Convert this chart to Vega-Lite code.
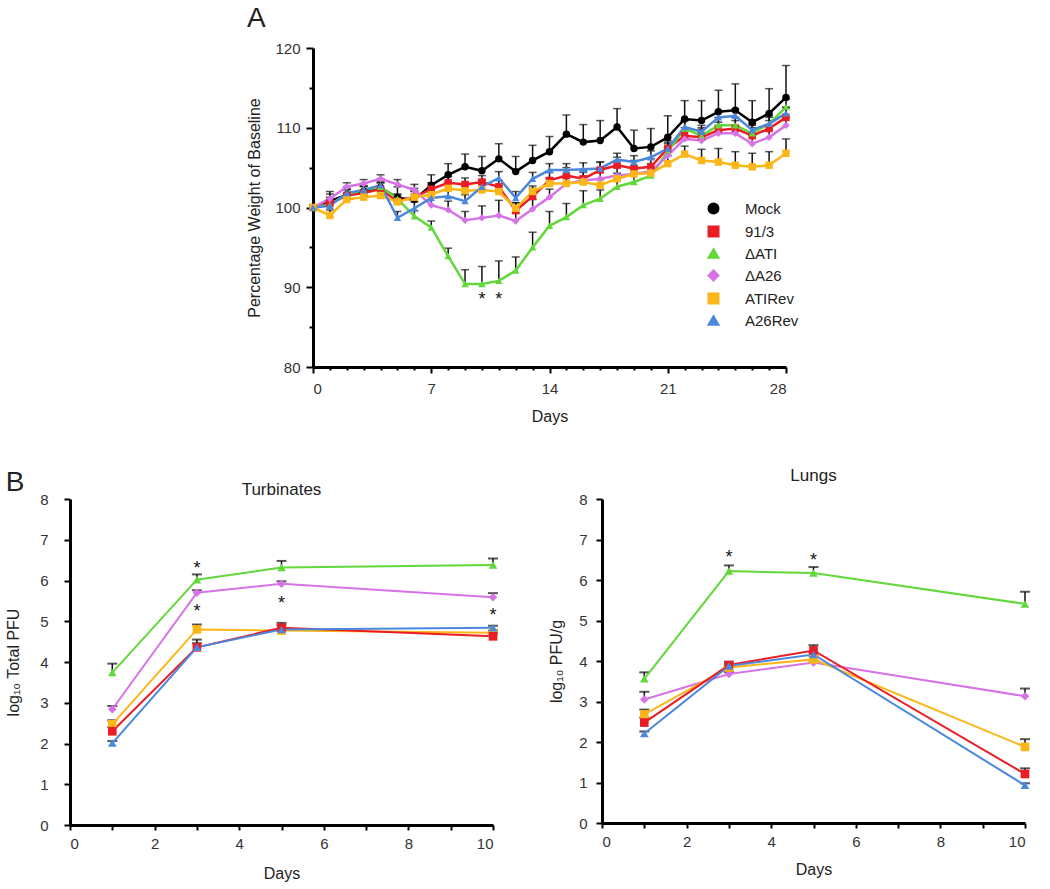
{
  "$schema": "https://vega.github.io/schema/vega-lite/v6.json",
  "padding": {"left": 5, "top": 5, "right": 5, "bottom": 5},
  "config": {
    "font": "Liberation Sans",
    "view": {"stroke": null},
    "axis": {"domainColor": "#000", "domainWidth": 3, "tickColor": "#000", "tickWidth": 2, "labelFont": "Liberation Sans", "labelFontSize": 15, "labelColor": "#333", "titleFont": "Liberation Sans", "titleFontSize": 16, "titleFontWeight": "normal", "titleColor": "#222", "grid": false},
    "title": {"fontWeight": "normal", "color": "#222", "font": "Liberation Sans"}
  },
  "datasets": {
    "weight": [
      {"d":0,"g":"Mock","v":100},{"d":1,"g":"Mock","v":100.8,"hi":102.0},{"d":2,"g":"Mock","v":101.6,"hi":102.3},{"d":3,"g":"Mock","v":102.0,"hi":102.7},{"d":4,"g":"Mock","v":102.5,"hi":103.3},{"d":5,"g":"Mock","v":101.2,"hi":102.6},{"d":6,"g":"Mock","v":101.0,"hi":102.4},{"d":7,"g":"Mock","v":102.8,"hi":104.1},{"d":8,"g":"Mock","v":104.1,"hi":105.5},{"d":9,"g":"Mock","v":105.1,"hi":106.7},{"d":10,"g":"Mock","v":104.6,"hi":106.4},{"d":11,"g":"Mock","v":106.1,"hi":108.0},{"d":12,"g":"Mock","v":104.5,"hi":106.4},{"d":13,"g":"Mock","v":105.9,"hi":107.8},{"d":14,"g":"Mock","v":107.0,"hi":108.9},{"d":15,"g":"Mock","v":109.2,"hi":111.6},{"d":16,"g":"Mock","v":108.2,"hi":110.4},{"d":17,"g":"Mock","v":108.4,"hi":110.9},{"d":18,"g":"Mock","v":110.1,"hi":112.4},{"d":19,"g":"Mock","v":107.4,"hi":109.7},{"d":20,"g":"Mock","v":107.6,"hi":109.9},{"d":21,"g":"Mock","v":108.8,"hi":111.5},{"d":22,"g":"Mock","v":111.1,"hi":113.4},{"d":23,"g":"Mock","v":110.9,"hi":113.4},{"d":24,"g":"Mock","v":112.0,"hi":114.7},{"d":25,"g":"Mock","v":112.2,"hi":115.5},{"d":26,"g":"Mock","v":110.7,"hi":113.4},{"d":27,"g":"Mock","v":111.8,"hi":114.9},{"d":28,"g":"Mock","v":113.8,"hi":117.8},
      {"d":0,"g":"91/3","v":100},{"d":1,"g":"91/3","v":100.5,"hi":101.3},{"d":2,"g":"91/3","v":101.5,"hi":102.3},{"d":3,"g":"91/3","v":101.8,"hi":102.6},{"d":4,"g":"91/3","v":102.3,"hi":103.1},{"d":5,"g":"91/3","v":100.8,"hi":101.6},{"d":6,"g":"91/3","v":101.3,"hi":102.1},{"d":7,"g":"91/3","v":102.3,"hi":103.1},{"d":8,"g":"91/3","v":103.1,"hi":103.9},{"d":9,"g":"91/3","v":102.9,"hi":103.7},{"d":10,"g":"91/3","v":103.2,"hi":104.0},{"d":11,"g":"91/3","v":102.6,"hi":103.4},{"d":12,"g":"91/3","v":99.6,"hi":100.6},{"d":13,"g":"91/3","v":101.4,"hi":102.4},{"d":14,"g":"91/3","v":103.4,"hi":104.4},{"d":15,"g":"91/3","v":104.0,"hi":105.0},{"d":16,"g":"91/3","v":103.6,"hi":104.6},{"d":17,"g":"91/3","v":104.7,"hi":105.7},{"d":18,"g":"91/3","v":105.3,"hi":106.3},{"d":19,"g":"91/3","v":104.9,"hi":105.9},{"d":20,"g":"91/3","v":105.1,"hi":106.1},{"d":21,"g":"91/3","v":107.4,"hi":108.4},{"d":22,"g":"91/3","v":109.0,"hi":110.0},{"d":23,"g":"91/3","v":108.8,"hi":109.8},{"d":24,"g":"91/3","v":109.7,"hi":110.7},{"d":25,"g":"91/3","v":109.9,"hi":110.9},{"d":26,"g":"91/3","v":109.0,"hi":110.0},{"d":27,"g":"91/3","v":109.9,"hi":110.9},{"d":28,"g":"91/3","v":111.3,"hi":112.5},
      {"d":0,"g":"ΔATI","v":100},{"d":1,"g":"ΔATI","v":100.3,"hi":100.8},{"d":2,"g":"ΔATI","v":101.7,"hi":102.2},{"d":3,"g":"ΔATI","v":102.2,"hi":102.7},{"d":4,"g":"ΔATI","v":102.6,"hi":103.1},{"d":5,"g":"ΔATI","v":101.1,"hi":101.7},{"d":6,"g":"ΔATI","v":98.9,"hi":99.6},{"d":7,"g":"ΔATI","v":97.5,"hi":98.3},{"d":8,"g":"ΔATI","v":93.9,"hi":94.9},{"d":9,"g":"ΔATI","v":90.4,"hi":92.2},{"d":10,"g":"ΔATI","v":90.4,"hi":92.6},{"d":11,"g":"ΔATI","v":90.8,"hi":93.3},{"d":12,"g":"ΔATI","v":92.1,"hi":93.8},{"d":13,"g":"ΔATI","v":95.0,"hi":96.9},{"d":14,"g":"ΔATI","v":97.7,"hi":99.5},{"d":15,"g":"ΔATI","v":98.8,"hi":100.5},{"d":16,"g":"ΔATI","v":100.3,"hi":102.1},{"d":17,"g":"ΔATI","v":101.1,"hi":102.2},{"d":18,"g":"ΔATI","v":102.6,"hi":103.6},{"d":19,"g":"ΔATI","v":103.2,"hi":104.2},{"d":20,"g":"ΔATI","v":104.0,"hi":105.0},{"d":21,"g":"ΔATI","v":107.0,"hi":108.0},{"d":22,"g":"ΔATI","v":109.9,"hi":110.9},{"d":23,"g":"ΔATI","v":109.0,"hi":110.0},{"d":24,"g":"ΔATI","v":110.3,"hi":111.3},{"d":25,"g":"ΔATI","v":110.3,"hi":111.3},{"d":26,"g":"ΔATI","v":109.3,"hi":110.3},{"d":27,"g":"ΔATI","v":110.5,"hi":111.5},{"d":28,"g":"ΔATI","v":112.6,"hi":113.6},
      {"d":0,"g":"ΔA26","v":100},{"d":1,"g":"ΔA26","v":101.1,"hi":101.7},{"d":2,"g":"ΔA26","v":102.6,"hi":103.1},{"d":3,"g":"ΔA26","v":103.0,"hi":103.5},{"d":4,"g":"ΔA26","v":103.6,"hi":104.1},{"d":5,"g":"ΔA26","v":102.9,"hi":103.5},{"d":6,"g":"ΔA26","v":102.2,"hi":102.9},{"d":7,"g":"ΔA26","v":100.3,"hi":101.3},{"d":8,"g":"ΔA26","v":99.7,"hi":100.8},{"d":9,"g":"ΔA26","v":98.4,"hi":99.5},{"d":10,"g":"ΔA26","v":98.7,"hi":100.2},{"d":11,"g":"ΔA26","v":99.0,"hi":100.9},{"d":12,"g":"ΔA26","v":98.3,"hi":99.3},{"d":13,"g":"ΔA26","v":99.8,"hi":101.0},{"d":14,"g":"ΔA26","v":101.3,"hi":102.3},{"d":15,"g":"ΔA26","v":103.0,"hi":104.0},{"d":16,"g":"ΔA26","v":103.4,"hi":104.4},{"d":17,"g":"ΔA26","v":103.6,"hi":104.6},{"d":18,"g":"ΔA26","v":104.0,"hi":105.0},{"d":19,"g":"ΔA26","v":104.2,"hi":105.2},{"d":20,"g":"ΔA26","v":104.5,"hi":105.5},{"d":21,"g":"ΔA26","v":106.5,"hi":107.5},{"d":22,"g":"ΔA26","v":108.6,"hi":109.6},{"d":23,"g":"ΔA26","v":108.4,"hi":109.4},{"d":24,"g":"ΔA26","v":109.3,"hi":110.3},{"d":25,"g":"ΔA26","v":109.3,"hi":110.3},{"d":26,"g":"ΔA26","v":108.0,"hi":109.0},{"d":27,"g":"ΔA26","v":108.8,"hi":109.8},{"d":28,"g":"ΔA26","v":110.3,"hi":111.3},
      {"d":0,"g":"ATIRev","v":100},{"d":1,"g":"ATIRev","v":99.0,"hi":99.7},{"d":2,"g":"ATIRev","v":101.0,"hi":101.7},{"d":3,"g":"ATIRev","v":101.3,"hi":102.0},{"d":4,"g":"ATIRev","v":101.5,"hi":102.2},{"d":5,"g":"ATIRev","v":100.7,"hi":101.4},{"d":6,"g":"ATIRev","v":101.3,"hi":102.0},{"d":7,"g":"ATIRev","v":101.6,"hi":102.3},{"d":8,"g":"ATIRev","v":102.4,"hi":103.1},{"d":9,"g":"ATIRev","v":102.1,"hi":102.8},{"d":10,"g":"ATIRev","v":102.2,"hi":102.9},{"d":11,"g":"ATIRev","v":102.0,"hi":102.7},{"d":12,"g":"ATIRev","v":99.9,"hi":100.6},{"d":13,"g":"ATIRev","v":102.0,"hi":102.7},{"d":14,"g":"ATIRev","v":103.0,"hi":103.7},{"d":15,"g":"ATIRev","v":103.0,"hi":103.7},{"d":16,"g":"ATIRev","v":103.2,"hi":103.9},{"d":17,"g":"ATIRev","v":102.8,"hi":103.5},{"d":18,"g":"ATIRev","v":103.6,"hi":104.3},{"d":19,"g":"ATIRev","v":104.2,"hi":104.9},{"d":20,"g":"ATIRev","v":104.3,"hi":105.0},{"d":21,"g":"ATIRev","v":105.5,"hi":106.5},{"d":22,"g":"ATIRev","v":106.7,"hi":107.7},{"d":23,"g":"ATIRev","v":105.9,"hi":107.3},{"d":24,"g":"ATIRev","v":105.7,"hi":107.4},{"d":25,"g":"ATIRev","v":105.3,"hi":107.0},{"d":26,"g":"ATIRev","v":105.1,"hi":106.8},{"d":27,"g":"ATIRev","v":105.3,"hi":107.0},{"d":28,"g":"ATIRev","v":106.8,"hi":108.6},
      {"d":0,"g":"A26Rev","v":100},{"d":1,"g":"A26Rev","v":100.2,"hi":101.0},{"d":2,"g":"A26Rev","v":101.8,"hi":102.6},{"d":3,"g":"A26Rev","v":102.2,"hi":103.0},{"d":4,"g":"A26Rev","v":102.8,"hi":103.6},{"d":5,"g":"A26Rev","v":98.7,"hi":99.5},{"d":6,"g":"A26Rev","v":99.9,"hi":100.7},{"d":7,"g":"A26Rev","v":101.2,"hi":102.0},{"d":8,"g":"A26Rev","v":101.4,"hi":102.2},{"d":9,"g":"A26Rev","v":100.8,"hi":101.6},{"d":10,"g":"A26Rev","v":102.6,"hi":103.4},{"d":11,"g":"A26Rev","v":103.7,"hi":104.5},{"d":12,"g":"A26Rev","v":101.2,"hi":102.0},{"d":13,"g":"A26Rev","v":103.6,"hi":104.4},{"d":14,"g":"A26Rev","v":104.7,"hi":105.5},{"d":15,"g":"A26Rev","v":104.7,"hi":105.5},{"d":16,"g":"A26Rev","v":104.8,"hi":105.6},{"d":17,"g":"A26Rev","v":104.9,"hi":105.7},{"d":18,"g":"A26Rev","v":106.0,"hi":106.8},{"d":19,"g":"A26Rev","v":105.7,"hi":106.5},{"d":20,"g":"A26Rev","v":106.3,"hi":107.1},{"d":21,"g":"A26Rev","v":107.4,"hi":108.2},{"d":22,"g":"A26Rev","v":110.1,"hi":110.9},{"d":23,"g":"A26Rev","v":109.5,"hi":110.3},{"d":24,"g":"A26Rev","v":111.3,"hi":112.1},{"d":25,"g":"A26Rev","v":111.5,"hi":112.3},{"d":26,"g":"A26Rev","v":109.7,"hi":110.5},{"d":27,"g":"A26Rev","v":110.5,"hi":111.3},{"d":28,"g":"A26Rev","v":111.8,"hi":112.6}
    ],
    "starsA": [{"d":10,"y":89.0},{"d":11,"y":89.0}],
    "turb": [
      {"d":1,"g":"ΔATI","v":3.74,"hi":3.96},{"d":3,"g":"ΔATI","v":6.02,"hi":6.15},{"d":5,"g":"ΔATI","v":6.32,"hi":6.48},{"d":10,"g":"ΔATI","v":6.38,"hi":6.54},
      {"d":1,"g":"ΔA26","v":2.84,"hi":2.92},{"d":3,"g":"ΔA26","v":5.70,"hi":5.76},{"d":5,"g":"ΔA26","v":5.92,"hi":5.98},{"d":10,"g":"ΔA26","v":5.59,"hi":5.69},
      {"d":1,"g":"ATIRev","v":2.47,"hi":2.57},{"d":3,"g":"ATIRev","v":4.80,"hi":4.92},{"d":5,"g":"ATIRev","v":4.77,"hi":4.82},{"d":10,"g":"ATIRev","v":4.72,"hi":4.77},
      {"d":1,"g":"91/3","v":2.30,"hi":2.40},{"d":3,"g":"91/3","v":4.36,"hi":4.55},{"d":5,"g":"91/3","v":4.84,"hi":4.96},{"d":10,"g":"91/3","v":4.63,"hi":4.71},
      {"d":1,"g":"A26Rev","v":2.01,"hi":2.06},{"d":3,"g":"A26Rev","v":4.36,"hi":4.46},{"d":5,"g":"A26Rev","v":4.80,"hi":4.90},{"d":10,"g":"A26Rev","v":4.84,"hi":4.89}
    ],
    "starsT": [{"d":3,"y":6.40},{"d":3,"y":5.36},{"d":5,"y":5.55},{"d":10,"y":5.26}],
    "lungs": [
      {"d":1,"g":"ΔATI","v":3.56,"hi":3.72},{"d":3,"g":"ΔATI","v":6.22,"hi":6.36},{"d":5,"g":"ΔATI","v":6.17,"hi":6.32},{"d":10,"g":"ΔATI","v":5.41,"hi":5.71},
      {"d":1,"g":"ΔA26","v":3.05,"hi":3.24},{"d":3,"g":"ΔA26","v":3.68,"hi":3.73},{"d":5,"g":"ΔA26","v":3.96,"hi":4.01},{"d":10,"g":"ΔA26","v":3.13,"hi":3.32},
      {"d":1,"g":"ATIRev","v":2.68,"hi":2.80},{"d":3,"g":"ATIRev","v":3.84,"hi":3.89},{"d":5,"g":"ATIRev","v":4.04,"hi":4.12},{"d":10,"g":"ATIRev","v":1.88,"hi":2.07},
      {"d":1,"g":"91/3","v":2.48,"hi":2.60},{"d":3,"g":"91/3","v":3.90,"hi":3.98},{"d":5,"g":"91/3","v":4.26,"hi":4.39},{"d":10,"g":"91/3","v":1.21,"hi":1.35},
      {"d":1,"g":"A26Rev","v":2.21,"hi":2.26},{"d":3,"g":"A26Rev","v":3.88,"hi":3.93},{"d":5,"g":"A26Rev","v":4.16,"hi":4.21},{"d":10,"g":"A26Rev","v":0.93,"hi":0.98}
    ],
    "starsL": [{"d":3,"y":6.67},{"d":5,"y":6.60}]
  },
  "spacing": 43,
  "vconcat": [
    {
      "spacing": 0,
      "hconcat": [
        {"width": 176, "height": 10, "data": {"values": [{}]}, "mark": {"type": "point", "opacity": 0}},
        {
          "width": 473, "height": 319,
          "title": {"text": "A", "anchor": "start", "frame": "bounds", "fontSize": 28, "offset": 8},
          "data": {"name": "weight"},
          "encoding": {
            "x": {"field": "d", "type": "quantitative", "scale": {"domain": [0, 28], "nice": false},
              "axis": {"title": "Days", "values": [0,1,2,3,4,5,6,7,8,9,10,11,12,13,14,15,16,17,18,19,20,21,22,23,24,25,26,27,28],
                "labelExpr": "datum.value % 7 === 0 ? datum.label : ''",
                "tickSize": {"condition": {"test": "datum.value % 7 === 0", "value": 6}, "value": 3},
                "labelPadding": 8, "titlePadding": 12}},
            "y": {"field": "v", "type": "quantitative", "scale": {"domain": [80, 120], "nice": false},
              "axis": {"title": "Percentage Weight of Baseline", "values": [80,85,90,95,100,105,110,115,120],
                "labelExpr": "datum.value % 10 === 0 ? datum.label : ''",
                "tickSize": {"condition": {"test": "datum.value % 10 === 0", "value": 7}, "value": 4},
                "labelPadding": 6, "titlePadding": 12}}
          },
          "layer": [
            {"transform": [{"filter": "datum.hi != null"}], "mark": {"type": "rule", "color": "#111", "strokeWidth": 1.5}, "encoding": {"y2": {"field": "hi"}}},
            {"transform": [{"filter": "datum.hi != null"}], "mark": {"type": "tick", "orient": "horizontal", "color": "#111", "thickness": 1.5, "size": 8}, "encoding": {"y": {"field": "hi", "type": "quantitative", "title": "Percentage Weight of Baseline"}}},
            {"mark": {"type": "line", "strokeWidth": 2.5}, "encoding": {"color": {"field": "g", "type": "nominal",
              "scale": {"domain": ["Mock", "91/3", "ΔATI", "ΔA26", "ATIRev", "A26Rev"], "range": ["#000000", "#ec1c24", "#62d83a", "#d673e6", "#fbb617", "#4b87dd"]},
              "legend": {"orient": "none", "legendX": 636, "legendY": 153, "title": null, "labelFontSize": 15, "labelColor": "#222", "symbolSize": 100, "symbolStrokeWidth": 2, "labelOffset": 24, "rowPadding": 4}}}},
            {"mark": {"type": "point", "filled": true, "size": 55, "opacity": 1}, "encoding": {
              "color": {"field": "g", "type": "nominal"},
              "shape": {"field": "g", "type": "nominal", "legend": null, "scale": {"domain": ["Mock", "91/3", "ΔATI", "ΔA26", "ATIRev", "A26Rev"], "range": ["circle", "square", "triangle-up", "diamond", "square", "triangle-up"]}}}},
            {"data": {"name": "starsA"}, "mark": {"type": "text", "text": "*", "fontSize": 18, "dy": 5, "color": "#111"}, "encoding": {"y": {"field": "y", "type": "quantitative", "title": "Percentage Weight of Baseline"}}}
          ]
        }
      ]
    },
    {
      "spacing": 50,
      "title": {"text": "B", "anchor": "start", "fontSize": 28, "offset": -30},
      "hconcat": [
        {
          "width": 423, "height": 326,
          "title": {"text": "Turbinates", "fontSize": 17, "offset": -7},
          "data": {"name": "turb"},
          "encoding": {
            "x": {"field": "d", "type": "quantitative", "scale": {"domain": [0, 10], "nice": false},
              "axis": {"title": "Days", "values": [0,1,2,3,4,5,6,7,8,9,10], "labelExpr": "datum.value % 2 === 0 ? datum.label : ''", "tickSize": 5, "labelPadding": 6, "titlePadding": 14}},
            "y": {"field": "v", "type": "quantitative", "scale": {"domain": [0, 8], "nice": false},
              "axis": {"title": "log₁₀ Total PFU", "values": [0,1,2,3,4,5,6,7,8], "tickSize": 6, "labelPadding": 16, "titlePadding": 18}}
          },
          "layer": [
            {"mark": {"type": "rule", "color": "#111", "strokeWidth": 1.5}, "encoding": {"y2": {"field": "hi"}}},
            {"mark": {"type": "tick", "orient": "horizontal", "color": "#111", "thickness": 2, "size": 10}, "encoding": {"y": {"field": "hi", "type": "quantitative", "title": "log₁₀ Total PFU"}}},
            {"mark": {"type": "line", "strokeWidth": 2}, "encoding": {"color": {"field": "g", "type": "nominal"}}},
            {"mark": {"type": "point", "filled": true, "size": 75, "opacity": 1}, "encoding": {"color": {"field": "g", "type": "nominal"}, "shape": {"field": "g", "type": "nominal", "legend": null}}},
            {"data": {"name": "starsT"}, "mark": {"type": "text", "text": "*", "fontSize": 18, "dy": 5, "color": "#111"}, "encoding": {"y": {"field": "y", "type": "quantitative", "title": "log₁₀ Total PFU"}}}
          ]
        },
        {
          "width": 423, "height": 324,
          "title": {"text": "Lungs", "fontSize": 17, "offset": 7},
          "data": {"name": "lungs"},
          "encoding": {
            "x": {"field": "d", "type": "quantitative", "scale": {"domain": [0, 10], "nice": false},
              "axis": {"title": "Days", "values": [0,1,2,3,4,5,6,7,8,9,10], "labelExpr": "datum.value % 2 === 0 ? datum.label : ''", "tickSize": 5, "labelPadding": 6, "titlePadding": 12}},
            "y": {"field": "v", "type": "quantitative", "scale": {"domain": [0, 8], "nice": false},
              "axis": {"title": "log₁₀ PFU/g", "values": [0,1,2,3,4,5,6,7,8], "tickSize": 6, "labelPadding": 9, "titlePadding": 14}}
          },
          "layer": [
            {"mark": {"type": "rule", "color": "#111", "strokeWidth": 1.5}, "encoding": {"y2": {"field": "hi"}}},
            {"mark": {"type": "tick", "orient": "horizontal", "color": "#111", "thickness": 2, "size": 10}, "encoding": {"y": {"field": "hi", "type": "quantitative", "title": "log₁₀ PFU/g"}}},
            {"mark": {"type": "line", "strokeWidth": 2}, "encoding": {"color": {"field": "g", "type": "nominal"}}},
            {"mark": {"type": "point", "filled": true, "size": 75, "opacity": 1}, "encoding": {"color": {"field": "g", "type": "nominal"}, "shape": {"field": "g", "type": "nominal", "legend": null}}},
            {"data": {"name": "starsL"}, "mark": {"type": "text", "text": "*", "fontSize": 18, "dy": 5, "color": "#111"}, "encoding": {"y": {"field": "y", "type": "quantitative", "title": "log₁₀ PFU/g"}}}
          ]
        }
      ]
    }
  ]
}
